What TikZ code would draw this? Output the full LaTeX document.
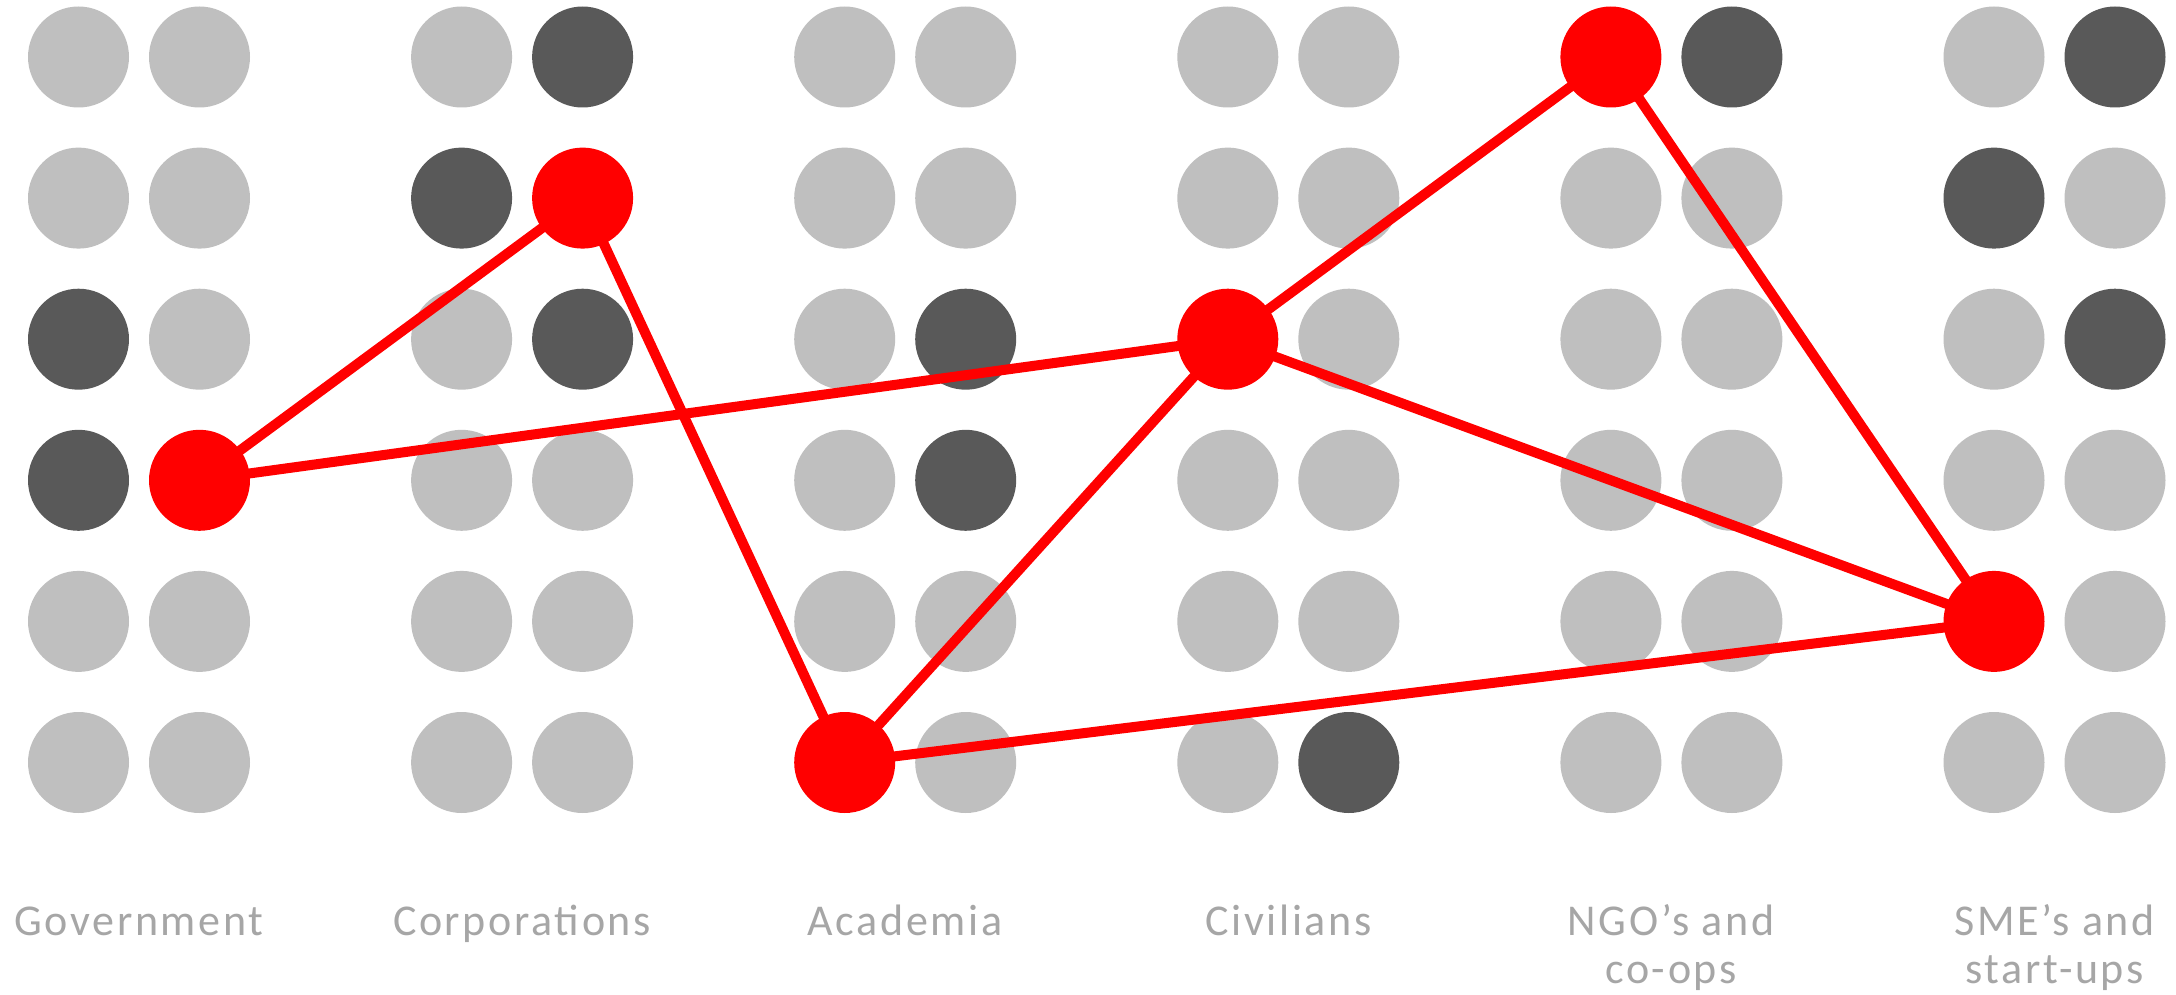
\documentclass[tikz,border=0pt]{standalone}
\usepackage{fontspec}
\setmainfont{Carlito}[LetterSpace=6.0]
\definecolor{dotL}{RGB}{191,191,191}
\definecolor{dotD}{RGB}{89,89,89}
\definecolor{dotR}{RGB}{255,0,0}
\definecolor{labelgray}{RGB}{166,166,166}
\tikzset{
  dot/.style={circle, inner sep=0pt, minimum size=50.5pt, draw=none},
  dotL/.style={dot, fill=dotL},
  dotD/.style={dot, fill=dotD},
  dotR/.style={dot, fill=dotR},
  link/.style={draw=dotR, line width=5pt},
  lbl/.style={text=labelgray, font=\fontsize{22}{24}\selectfont, align=center, anchor=base, inner sep=0pt}
}
\begin{document}
\begin{tikzpicture}[x=0.5pt, y=-0.5pt]
\fill[white] (0,0) rectangle (2176,995);
\useasboundingbox (0,0) rectangle (2176,995);
\foreach \row/\cols in {
  0/{L,L,L,D,L,L,L,L,R,D,L,D},
  1/{L,L,D,R,L,L,L,L,L,L,D,L},
  2/{D,L,L,D,L,D,R,L,L,L,L,D},
  3/{D,R,L,L,L,D,L,L,L,L,L,L},
  4/{L,L,L,L,L,L,L,L,L,L,R,L},
  5/{L,L,L,L,R,L,L,D,L,L,L,L}}{
  \foreach \c [count=\i from 0] in \cols {
    \pgfmathsetmacro{\xx}{78.5+383.1*int(\i/2)+121*mod(\i,2)}
    \pgfmathsetmacro{\yy}{57+141.1*\row}
    \node[dot\c] (d\row-\i) at (\xx,\yy) {};
  }
}
\draw[link] (d3-1.center) -- (d1-3.center);
\draw[link] (d3-1.center) -- (d2-6.center);
\draw[link] (d1-3.center) -- (d5-4.center);
\draw[link] (d5-4.center) -- (d2-6.center);
\draw[link] (d5-4.center) -- (d4-10.center);
\draw[link] (d2-6.center) -- (d0-8.center);
\draw[link] (d2-6.center) -- (d4-10.center);
\draw[link] (d0-8.center) -- (d4-10.center);
\node[lbl] (lgov) at (139,935) {Government};
\node[lbl] (lcorp) at (522,935) {Corporations};
\node[lbl] (lacad) at (905,935) {Academia};
\node[lbl] (lciv) at (1288.5,935) {Civilians};
\node[lbl] (lngo) at (1671,983) {NGO’s and\\co-ops};
\node[lbl] (lsme) at (2054.5,983) {SME’s and\\start-ups};
\end{tikzpicture}
\end{document}
